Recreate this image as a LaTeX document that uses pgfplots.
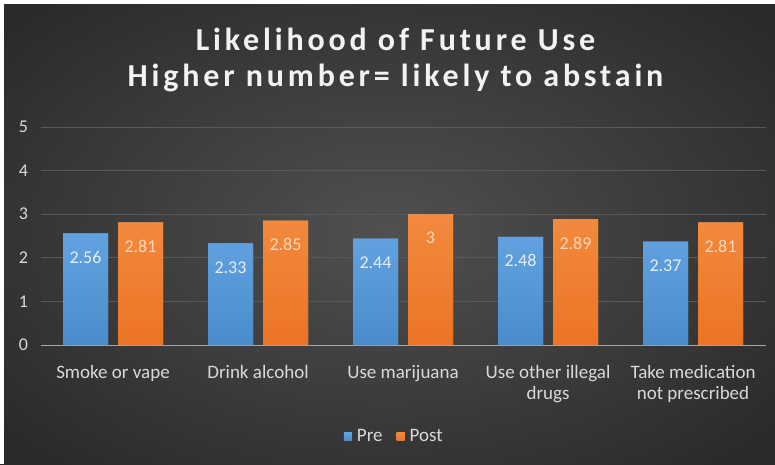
\documentclass[border=0pt]{standalone}
\usepackage{fontspec}
\setmainfont{Carlito}
\newfontfamily\titlefont[LetterSpace=12]{Carlito}
\usepackage{pgfplots}
\pgfplotsset{compat=1.18}
\definecolor{bgin}{HTML}{505050}
\definecolor{bgout}{HTML}{2A2A2A}
\definecolor{gridc}{HTML}{585858}
\definecolor{basec}{HTML}{A6A6A6}
\definecolor{txt}{HTML}{D9D9D9}
\definecolor{blueT}{HTML}{62A2E0}
\definecolor{blueB}{HTML}{4A8CCB}
\definecolor{orT}{HTML}{F28A3E}
\definecolor{orB}{HTML}{EC7424}
\definecolor{bluelab}{HTML}{E6EEF6}
\definecolor{orlab}{HTML}{F8D8BC}
\begin{document}
\begin{tikzpicture}[x=1pt,y=1pt]
\useasboundingbox (0,0) rectangle (775,464);
\shade[inner color=bgin, outer color=bgout] (-120,-80) rectangle (895,544);
\fill[white] (0,0) rectangle (4,464);
\fill[white] (0,460) rectangle (775,464);
\node[text=white!95!black, font=\titlefont\fontsize{32}{34}\selectfont\bfseries] at (395.5,425) {Likelihood of Future Use};
\node[text=white!95!black, font=\titlefont\fontsize{32}{34}\selectfont\bfseries] at (395.5,386) {Higher number= likely to abstain};
\begin{axis}[
  at={(40.5pt,119pt)}, anchor=south west,
  scale only axis, width=725pt, height=218pt,
  xmin=-0.5, xmax=4.5, ymin=0, ymax=5,
  ybar=10pt, bar width=45pt,
  axis line style={draw=none},
  ymajorgrids, grid style={gridc, line width=0.8pt},
  major tick length=0pt,
  ytick={0,1,2,3,4,5},
  xtick={0,1,2,3,4},
  xticklabels={Smoke or vape, Drink alcohol, Use marijuana, {Use other illegal\\drugs}, {Take medication\\not prescribed}},
  xticklabel style={align=center, text=txt, font=\fontsize{19}{21}\selectfont, yshift=-17pt},
  yticklabel style={text=txt, font=\fontsize{18}{18}\selectfont, xshift=-9pt},
  /pgf/number format/assume math mode=true,
  nodes near coords,
  every node near coord/.append style={anchor=center, yshift=-24pt, font=\fontsize{18}{20}\selectfont},
  legend style={at={(0.488,-0.417)}, anchor=center, draw=none, fill=none, legend columns=2,
     text=txt, font=\fontsize{19}{20}\selectfont, /tikz/every even column/.append style={column sep=12pt}},
  legend image code/.code={\fill[#1] (0pt,-4.5pt) rectangle (8pt,3.5pt); \path (11pt,0pt);},
  clip=false,
]
\draw[basec, line width=1pt] (axis cs:-0.5,0) -- (axis cs:4.5,0);
\addplot[draw=none, top color=blueT, bottom color=blueB, fill=blueT,
  every node near coord/.append style={text=bluelab}] coordinates {(0,2.56) (1,2.33) (2,2.44) (3,2.48) (4,2.37)};
\addplot[draw=none, top color=orT, bottom color=orB, fill=orT,
  every node near coord/.append style={text=orlab}] coordinates {(0,2.81) (1,2.85) (2,3) (3,2.89) (4,2.81)};
\legend{Pre, Post}
\end{axis}
\end{tikzpicture}
\end{document}
